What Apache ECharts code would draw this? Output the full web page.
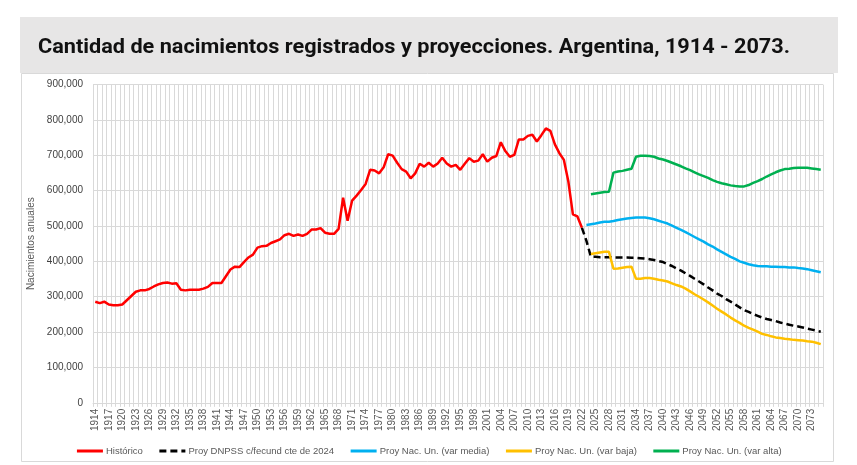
<!DOCTYPE html>
<html>
<head>
<meta charset="utf-8">
<script src="https://cdn.jsdelivr.net/npm/echarts@6/dist/echarts.min.js"></script>
<style>html,body{margin:0;padding:0;background:#fff}#c{width:857px;height:465px}</style>
</head>
<body>
<div id="c"></div>
<script>
// ---- data (births) ----
var firstYear = 1914, lastYear = 2075;
var years = [];
for (var y = firstYear; y <= lastYear; y++) years.push(String(y));

// Histórico 1914 - 2022
var historicoStart = 1914;
var historico = [286000,282000,286000,278000,276000,276000,278000,290000,302000,314000,
  318000,318000,322000,329000,335000,339000,340000,337000,338000,320000,
  318000,320000,320000,320000,323000,328000,339000,339000,339000,358000,
  377000,385000,384000,398000,411000,419000,439000,443000,444000,452000,
  457000,462000,474000,478000,472000,476000,472000,478000,490000,490000,
  494000,481000,478000,478000,492000,580000,515000,572000,586000,602000,
  619000,659000,657000,649000,666000,703000,699000,679000,661000,654000,
  635000,649000,676000,668000,679000,668000,677000,693000,677000,668000,
  673000,659000,676000,692000,682000,685000,703000,682000,693000,698000,
  737000,712000,696000,701000,745000,745000,755000,758000,739000,757000,
  776000,769000,731000,706000,687000,625000,533000,527000,495000];

// Proy DNPSS c/fecund cte de 2024 (2022 - 2075)
var dnpssStart = 2022;
var dnpss = [495000,458000,413000,413000,412000,412000,412000,411000,411000,411000,
  411000,410000,410000,409000,408000,406000,404000,401000,398000,392000,
  387000,380000,374000,366000,359000,351000,343000,335000,326000,318000,
  309000,302000,293000,286000,278000,270000,262000,257000,251000,246000,
  241000,237000,234000,231000,227000,224000,221000,218000,216000,213000,
  210000,207000,204000,201000];

// Proy Nac. Un. (var media) 2023 - 2075
var mediaStart = 2023;
var media = [503000,505000,507000,510000,512000,512000,514000,517000,519000,521000,
  523000,524000,524000,524000,522000,519000,515000,511000,507000,501000,
  495000,489000,483000,476000,469000,462000,456000,448000,442000,434000,
  427000,420000,413000,407000,400000,396000,392000,389000,387000,386000,
  386000,385000,385000,384000,384000,383000,383000,381000,380000,378000,
  375000,372000,369000];

// Proy Nac. Un. (var baja) 2024 - 2075
var bajaStart = 2024;
var baja = [421000,423000,425000,427000,427000,379000,380000,382000,384000,385000,
  351000,351000,353000,353000,351000,348000,346000,343000,338000,333000,
  329000,323000,315000,307000,300000,292000,284000,275000,266000,258000,
  250000,241000,233000,226000,218000,212000,207000,201000,195000,192000,
  188000,185000,183000,181000,180000,178000,177000,176000,174000,173000,
  170000,166000];

// Proy Nac. Un. (var alta) 2024 - 2075
var altaStart = 2024;
var alta = [590000,592000,594000,596000,597000,651000,654000,656000,659000,662000,
  696000,699000,699000,698000,696000,691000,688000,684000,679000,674000,
  669000,663000,658000,652000,646000,641000,636000,630000,625000,621000,
  618000,615000,613000,612000,612000,616000,622000,627000,633000,640000,
  646000,652000,657000,661000,662000,664000,665000,665000,665000,663000,
  661000,659000];

var seriesNames = ['Histórico','Proy DNPSS c/fecund cte de 2024','Proy Nac. Un. (var media)','Proy Nac. Un. (var baja)','Proy Nac. Un. (var alta)'];
var titleText = 'Cantidad de nacimientos registrados y proyecciones. Argentina, 1914 - 2073.';
var yAxisName = 'Nacimientos anuales';

// align a series to the category list
function align(start, vals) {
  var out = [];
  for (var i = 0; i < years.length; i++) {
    var k = (firstYear + i) - start;
    out.push(k >= 0 && k < vals.length ? vals[k] : null);
  }
  return out;
}

var chart = echarts.init(document.getElementById('c'), null, {renderer: 'canvas'});
var txt = '#595959';
var font = 'Liberation Sans, Arial, sans-serif';

// fit title width to the reference's condensed look
var titleFont = 'bold 21px Roboto, "Liberation Sans", sans-serif';
var mctx = document.createElement('canvas').getContext('2d');
mctx.font = titleFont;
var titleW = mctx.measureText(titleText).width || 752;
var titleScale = 752 / titleW;

function line(name, data, color, dashed) {
  return {
    name: name, type: 'line', data: data, symbol: 'none', showSymbol: false,
    connectNulls: false, animation: false,
    lineStyle: {color: color, width: 2.5, type: dashed ? [7, 4] : 'solid'},
    itemStyle: {color: color}
  };
}

chart.setOption({
  backgroundColor: '#ffffff',
  animation: false,
  textStyle: {fontFamily: font},
  graphic: [
    {type: 'rect', z: -10, shape: {x: 21.5, y: 73.5, width: 812, height: 388}, style: {fill: '#ffffff', stroke: '#d9d9d9', lineWidth: 1}},
    {type: 'rect', z: -9, shape: {x: 20, y: 17, width: 818, height: 56}, style: {fill: '#e7e6e6'}},
    {type: 'text', z: 10, x: 38, y: 48, scaleX: titleScale, originX: 0, originY: 0,
     style: {text: titleText, fill: '#111111', font: titleFont, verticalAlign: 'middle', align: 'left'}}
  ],
  grid: {left: 93, right: 34, top: 84.6, bottom: 62.2, containLabel: false},
  legend: {
    data: seriesNames, left: 'center', top: 441, itemWidth: 26, itemHeight: 10, itemGap: 15,
    itemStyle: {opacity: 0},
    lineStyle: {width: 3},
    textStyle: {color: txt, fontSize: 9.5, fontFamily: font, padding: [0, 0, 0, -2]}
  },
  xAxis: {
    type: 'category', data: years, boundaryGap: true,
    axisLine: {show: true, lineStyle: {color: '#d9d9d9'}},
    axisTick: {show: true, interval: 0, length: 4, lineStyle: {color: '#d9d9d9'}},
    splitLine: {show: true, interval: 0, lineStyle: {color: '#d9d9d9', width: 1}},
    axisLabel: {interval: 2, rotate: 90, fontSize: 10, color: txt, margin: 6, fontFamily: font}
  },
  yAxis: {
    type: 'value', min: 0, max: 900000, interval: 100000,
    name: yAxisName, nameLocation: 'middle', nameGap: 52, nameRotate: 90,
    nameTextStyle: {color: txt, fontSize: 10, fontFamily: font},
    axisLine: {show: false}, axisTick: {show: false},
    splitLine: {show: true, lineStyle: {color: '#d9d9d9', width: 1}},
    axisLabel: {color: '#404040', fontSize: 10, margin: 10, fontFamily: font,
      formatter: function (v) { return v.toLocaleString('en-US'); }}
  },
  series: [
    line(seriesNames[0], align(historicoStart, historico), '#ff0000', false),
    line(seriesNames[1], align(dnpssStart, dnpss), '#000000', true),
    line(seriesNames[2], align(mediaStart, media), '#00b0f0', false),
    line(seriesNames[3], align(bajaStart, baja), '#ffc000', false),
    line(seriesNames[4], align(altaStart, alta), '#00b050', false)
  ]
});
</script>
</body>
</html>
